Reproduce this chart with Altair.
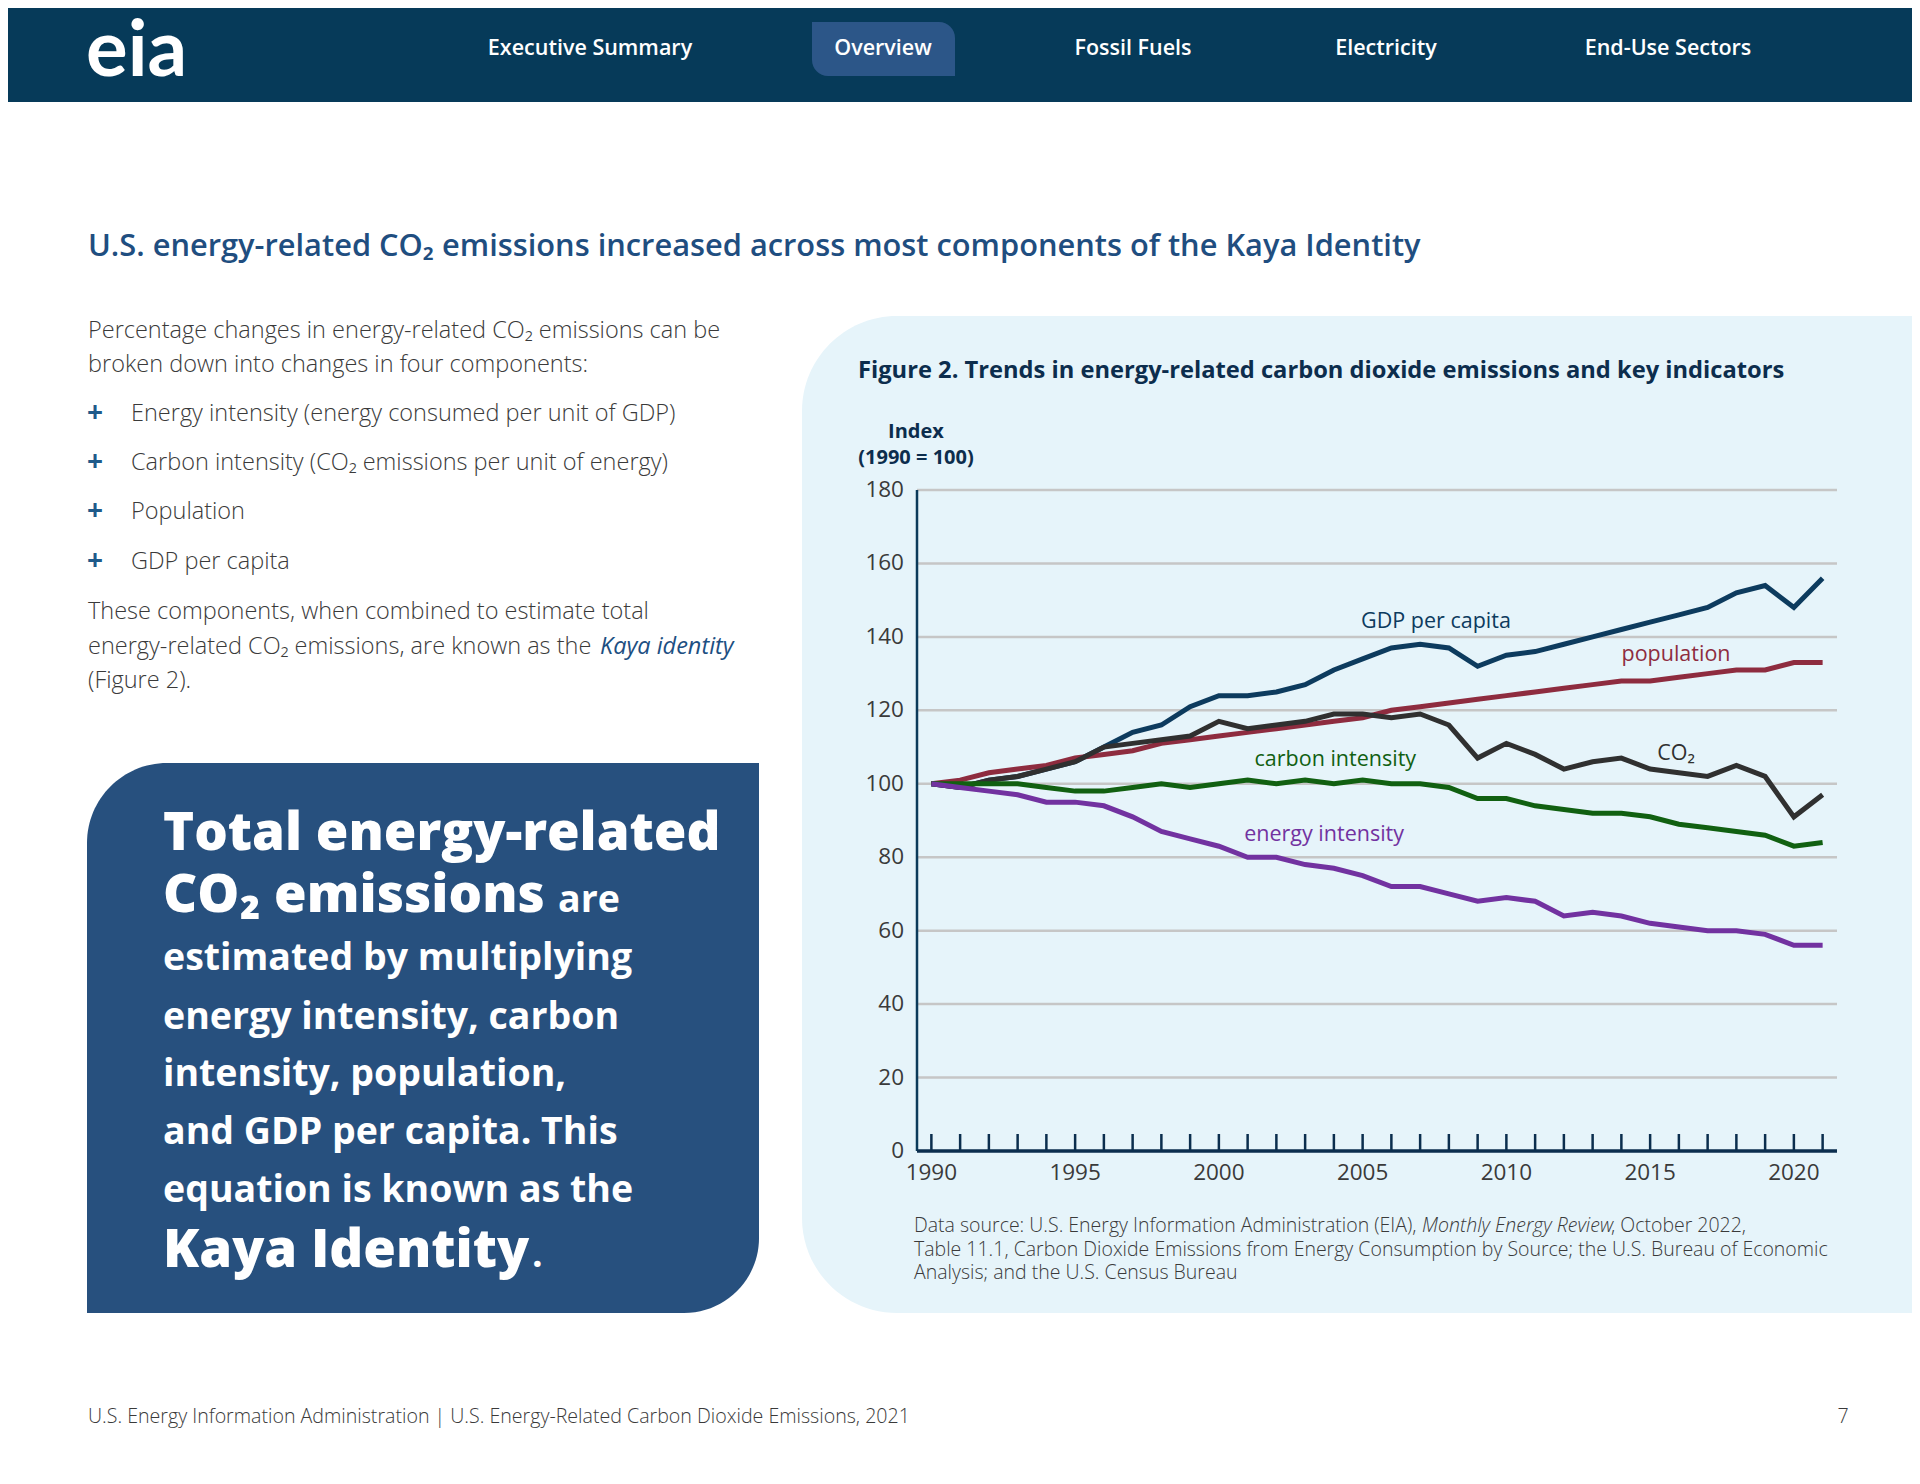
import altair as alt
import pandas as pd

# ---------------- data ----------------
years = list(range(1990, 2022))
gdp_per_capita = [100, 99, 101, 102, 104, 106, 110, 114, 116, 121, 124, 124, 125, 127, 131, 134,
                  137, 138, 137, 132, 135, 136, 138, 140, 142, 144, 146, 148, 152, 154, 148, 156]
population = [100, 101, 103, 104, 105, 107, 108, 109, 111, 112, 113, 114, 115, 116, 117, 118,
              120, 121, 122, 123, 124, 125, 126, 127, 128, 128, 129, 130, 131, 131, 133, 133]
co2 = [100, 99, 101, 102, 104, 106, 110, 111, 112, 113, 117, 115, 116, 117, 119, 119,
       118, 119, 116, 107, 111, 108, 104, 106, 107, 104, 103, 102, 105, 102, 91, 97]
carbon_intensity = [100, 100, 100, 100, 99, 98, 98, 99, 100, 99, 100, 101, 100, 101, 100, 101,
                    100, 100, 99, 96, 96, 94, 93, 92, 92, 91, 89, 88, 87, 86, 83, 84]
energy_intensity = [100, 99, 98, 97, 95, 95, 94, 91, 87, 85, 83, 80, 80, 78, 77, 75,
                    72, 72, 70, 68, 69, 68, 64, 65, 64, 62, 61, 60, 60, 59, 56, 56]

series_names = ["GDP per capita", "population", "CO₂", "carbon intensity", "energy intensity"]
series_values = [gdp_per_capita, population, co2, carbon_intensity, energy_intensity]
series_colors = ["#0d3b5e", "#8e2c3f", "#303030", "#116011", "#7232a0"]

y_ticks = list(range(0, 181, 20))
grid_values = list(range(20, 181, 20))
x_label_years = [1990, 1995, 2000, 2005, 2010, 2015, 2020]

nav_items = ["Executive Summary", "Overview", "Fossil Fuels", "Electricity", "End-Use Sectors"]

rows = []
for name, vals in zip(series_names, series_values):
    for yr, v in zip(years, vals):
        rows.append({"year": yr, "value": v, "series": name})
lines_df = pd.DataFrame(rows)
ticks_df = pd.DataFrame({"year": years})
grid_df = pd.DataFrame({"v": grid_values})
ylab_df = pd.DataFrame({"v": y_ticks})
xlab_df = pd.DataFrame({"year": x_label_years})
dummy = pd.DataFrame({"a": [0]})

# ---------------- layout helpers ----------------
OFF = 8
W, H = 1904, 1468
FONT = "Open Sans"
NAVY = "#063a59"
TEXT = "#3a3a3a"
AXIS = "#0b2e4e"


def P(v):
    return v - OFF


def txt(s, x, y, size, color, weight="normal", style="normal", align="left",
        baseline="middle", font=FONT):
    return alt.Chart(dummy).mark_text(
        text=s, fontSize=size, color=color, fontWeight=weight, fontStyle=style,
        align=align, baseline=baseline, font=font
    ).encode(x=alt.value(P(x)), y=alt.value(P(y)))


def box(x1, y1, x2, y2, color, **kw):
    return alt.Chart(dummy).mark_rect(color=color, **kw).encode(
        x=alt.value(max(P(x1), 0)), x2=alt.value(min(P(x2), W)),
        y=alt.value(max(P(y1), 0)), y2=alt.value(min(P(y2), H)))


layers = []

# header
layers.append(box(0, 0, 1920, 102, NAVY))
layers.append(box(812, 22, 955, 76, "#2c5688", cornerRadiusTopRight=16, cornerRadiusBottomLeft=16))
layers.append(txt("eia", 86, 76, 78, "white", weight="bold", baseline="alphabetic", font="Lato"))
for name, cx in zip(nav_items, [590, 883, 1133, 1386, 1668]):
    layers.append(txt(name, cx, 49, 21.5, "white", weight=600, align="center"))

# title
layers.append(txt("U.S. energy-related CO₂ emissions increased across most components of the Kaya Identity",
                  88, 247, 30.8, "#1f4e80", weight=600))

# left text
BODY = 23.5
layers.append(txt("Percentage changes in energy-related CO₂ emissions can be", 88, 331, BODY, TEXT, weight=300))
layers.append(txt("broken down into changes in four components:", 88, 365, BODY, TEXT, weight=300))
bullets = ["Energy intensity (energy consumed per unit of GDP)",
           "Carbon intensity (CO₂ emissions per unit of energy)",
           "Population",
           "GDP per capita"]
for b, yy in zip(bullets, [414, 463, 512, 562]):
    layers.append(txt("+", 95, yy, 28, "#1f5a8a", weight="bold", align="center"))
    layers.append(txt(b, 131, yy, BODY, TEXT, weight=300))
layers.append(txt("These components, when combined to estimate total", 88, 612, BODY, TEXT, weight=300))
layers.append(txt("energy-related CO₂ emissions, are known as the", 88, 647, BODY, TEXT, weight=300))
layers.append(txt("Kaya identity", 600, 647, BODY, "#1d4f82", style="italic"))
layers.append(txt("(Figure 2).", 88, 681, BODY, TEXT, weight=300))

# blue call-out box
layers.append(box(87, 763, 759, 1313, "#27507e", cornerRadiusTopLeft=80, cornerRadiusBottomRight=75))
BIG, MED = 52.8, 37.5
layers.append(txt("Total energy-related", 163, 850, BIG, "white", weight=800, baseline="alphabetic"))
layers.append(txt("CO₂ emissions", 163, 912, BIG, "white", weight=800, baseline="alphabetic"))
layers.append(txt("are", 558, 912, MED, "white", weight="bold", baseline="alphabetic"))
for s, yy in zip(["estimated by multiplying", "energy intensity, carbon", "intensity, population,",
                  "and GDP per capita. This", "equation is known as the"],
                 [970, 1029, 1086, 1144, 1202]):
    layers.append(txt(s, 163, yy, MED, "white", weight="bold", baseline="alphabetic"))
layers.append(txt("Kaya Identity", 163, 1267, BIG, "white", weight=800, baseline="alphabetic"))
layers.append(txt(".", 532, 1267, MED, "white", weight="bold", baseline="alphabetic"))

# chart panel
layers.append(box(802, 316, 1920, 1313, "#e6f4fa", cornerRadiusTopLeft=95, cornerRadiusBottomLeft=95))
layers.append(txt("Figure 2. Trends in energy-related carbon dioxide emissions and key indicators",
                  858, 371, 23.7, "#0c2d4d", weight="bold"))
layers.append(txt("Index", 916, 432, 20, "#0c2d4d", weight="bold", align="center"))
layers.append(txt("(1990 = 100)", 916, 458, 20, "#0c2d4d", weight="bold", align="center"))

# data source + footer
SRC = 19.5
layers.append(txt("Data source: U.S. Energy Information Administration (EIA),", 914, 1226, SRC, TEXT, weight=300))
layers.append(txt("Monthly Energy Review", 1422, 1226, SRC, TEXT, weight=300, style="italic"))
layers.append(txt(", October 2022,", 1611, 1226, SRC, TEXT, weight=300))
layers.append(txt("Table 11.1, Carbon Dioxide Emissions from Energy Consumption by Source; the U.S. Bureau of Economic",
                  914, 1250, SRC, TEXT, weight=300))
layers.append(txt("Analysis; and the U.S. Census Bureau", 914, 1273, SRC, TEXT, weight=300))
layers.append(txt("U.S. Energy Information Administration | U.S. Energy-Related Carbon Dioxide Emissions, 2021",
                  88, 1417, 19.6, TEXT, weight=300))
layers.append(txt("7", 1843, 1417, 19.6, TEXT, weight=300, align="center"))

# ---------------- chart proper ----------------
X0, X1 = 1989.5, 2021.5
xs = alt.Scale(domain=[X0, X1], range=[P(917), P(1837)], nice=False, zero=False)
ys = alt.Scale(domain=[0, 180], range=[P(1151), P(490)], nice=False, zero=False)

grid = alt.Chart(grid_df).mark_rule(color="#c6c6c6", strokeWidth=2.5).encode(
    y=alt.Y("v:Q", scale=ys, axis=None),
    x=alt.X(datum=X0, scale=xs, axis=None), x2=alt.X2(datum=X1))
layers.append(grid)

ticks = alt.Chart(ticks_df).mark_rule(color=AXIS, strokeWidth=2.5).encode(
    x=alt.X("year:Q", scale=xs, axis=None),
    y=alt.value(P(1151)), y2=alt.value(P(1134)))
layers.append(ticks)

# axis lines
layers.append(alt.Chart(dummy).mark_rule(color="#0b3a5a", strokeWidth=2.5).encode(
    x=alt.X(datum=X0, scale=xs, axis=None),
    y=alt.Y(datum=0, scale=ys, axis=None), y2=alt.Y2(datum=180)))
layers.append(alt.Chart(dummy).mark_rule(color=AXIS, strokeWidth=3.5).encode(
    y=alt.Y(datum=0, scale=ys, axis=None),
    x=alt.X(datum=X0, scale=xs, axis=None), x2=alt.X2(datum=X1)))

# axis labels
AX_FS = 22.5
layers.append(alt.Chart(ylab_df).mark_text(fontSize=AX_FS, color=TEXT, font=FONT, align="right",
                                           baseline="middle").encode(
    y=alt.Y("v:Q", scale=ys, axis=None), x=alt.value(P(904)), text=alt.Text("v:Q", format="d")))
layers.append(alt.Chart(xlab_df).mark_text(fontSize=AX_FS, color=TEXT, font=FONT, align="center",
                                           baseline="middle").encode(
    x=alt.X("year:Q", scale=xs, axis=None), y=alt.value(P(1173)), text=alt.Text("year:Q", format="d")))

lines = alt.Chart(lines_df).mark_line(strokeWidth=5).encode(
    x=alt.X("year:Q", scale=xs, axis=None),
    y=alt.Y("value:Q", scale=ys, axis=None),
    color=alt.Color("series:N", scale=alt.Scale(domain=series_names, range=series_colors), legend=None),
    detail="series:N")
layers.append(lines)

label_pos = [(2007.55, 144.1), (2015.9, 135.1), (2015.9, 108.1), (2004.05, 106.5), (2003.66, 86.1)]
for name, col, (lx, ly) in zip(series_names, series_colors, label_pos):
    layers.append(alt.Chart(dummy).mark_text(text=name, fontSize=21.5, color=col, font=FONT,
                                             align="center", baseline="middle").encode(
        x=alt.X(datum=lx, scale=xs, axis=None), y=alt.Y(datum=ly, scale=ys, axis=None)))

chart = alt.layer(*layers).properties(
    width=W, height=H, autosize=alt.AutoSizeParams(type="none"), padding=0, background="white"
).configure_view(stroke=None)

chart.save("out.html", embed_options={"renderer": "svg", "actions": False})
